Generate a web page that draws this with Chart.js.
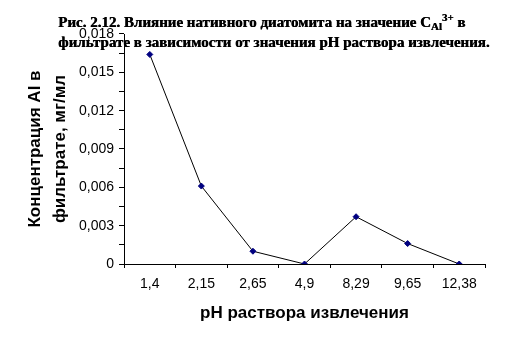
<!DOCTYPE html>
<html><head><meta charset="utf-8">
<script src="https://cdn.jsdelivr.net/npm/chart.js@4/dist/chart.umd.min.js"></script>
<style>
html,body{margin:0;padding:0;background:#fff;}
#wrap{position:relative;width:517px;height:352px;}
#c{position:absolute;left:0;top:0;}
#ttl{position:absolute;left:58px;top:12px;font-family:"Liberation Serif","Times New Roman",serif;font-weight:bold;font-size:15px;line-height:20px;color:#000;white-space:nowrap;text-shadow:0.5px 0 0 #000;}
#ttl sub{font-size:11px;vertical-align:-3px;line-height:0;}
#ttl sup{font-size:11px;vertical-align:6px;line-height:0;}
</style></head>
<body><div id="wrap"><canvas id="c" width="517" height="352"></canvas>
<div id="ttl">Рис. 2.12. Влияние нативного диатомита на значение С<sub>Al</sub><sup>3+</sup> в<br>фильтрате в зависимости от значения pH раствора извлечения.</div></div>
<script>
const categories = ['1,4','2,15','2,65','4,9','8,29','9,65','12,38'];
const concentration = [0.0164, 0.0061, 0.0010, 0.0000, 0.0037, 0.0016, 0.0000];
const yTickLabels = ['0','0,003','0,006','0,009','0,012','0,015','0,018'];
const yTitle = ['Концентрация Al в', 'фильтрате, мг/мл'];
const xTitle = 'pH раствора извлечения';

new Chart(document.getElementById('c'), {
  type: 'line',
  data: {
    labels: categories,
    datasets: [{
      data: concentration,
      borderColor: '#000',
      borderWidth: 1,
      pointStyle: 'rectRot',
      pointRadius: 3,
      pointBackgroundColor: '#000080',
      pointBorderColor: '#000080',
      pointBorderWidth: 1,
      tension: 0,
      fill: false
    }]
  },
  options: {
    responsive: false,
    animation: false,
    devicePixelRatio: 1,
    layout: { padding: { top: 34, right: 32, bottom: 0, left: 0 } },
    plugins: { legend: { display: false }, tooltip: { enabled: false }, title: { display: false } },
    scales: {
      x: {
        type: 'category',
        offset: true,
        afterFit: (s) => { s.height = 88; },
        border: { display: true, color: '#000', width: 1 },
        grid: { offset: true, drawOnChartArea: false, drawTicks: true, tickLength: 4, color: '#000' },
        ticks: { color: '#000', font: { family: 'Arial, "Liberation Sans"', size: 14 }, padding: 8, maxRotation: 0 },
        title: { display: true, text: xTitle, color: '#000', font: { family: 'Arial, "Liberation Sans"', size: 17, weight: 'bold', lineHeight: 1.2 }, padding: { top: 0, bottom: 28.8 } }
      },
      y: {
        min: 0, max: 0.018,
        afterFit: (s) => { s.width = 124; },
        border: { display: true, color: '#000', width: 1 },
        grid: { drawOnChartArea: false, drawTicks: true, tickLength: 5, color: '#000' },
        afterBuildTicks: (s) => { const t = []; for (let i = 0; i <= 12; i++) t.push({ value: i * 0.0015 }); s.ticks = t; },
        ticks: {
          color: '#000', font: { family: 'Arial, "Liberation Sans"', size: 14 }, padding: 5,
          autoSkip: false,
          callback: (v, i) => (i % 2 === 0 ? yTickLabels[i / 2] : '')
        },
        title: { display: true, text: yTitle, color: '#000', font: { family: 'Arial, "Liberation Sans"', size: 17, weight: 'bold', lineHeight: 1.47 }, padding: { top: 22.5, bottom: 0 } }
      }
    }
  }
});
</script></body></html>
